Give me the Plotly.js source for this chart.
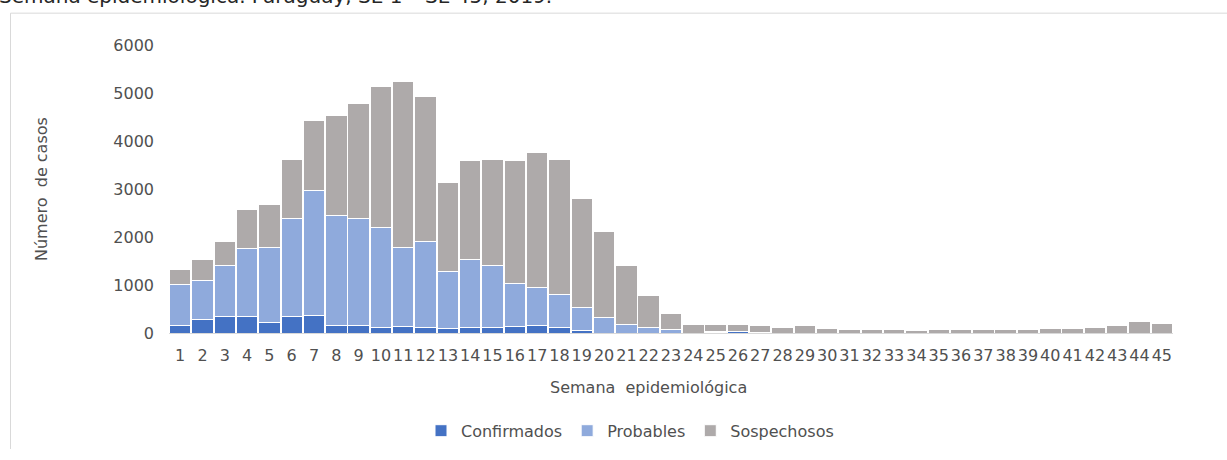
<!DOCTYPE html>
<html>
<head>
<meta charset="utf-8">
<script src="https://cdn.plot.ly/plotly-3.0.1.min.js"></script>
<style>
  html, body { margin: 0; padding: 0; background: #ffffff; }
  #chart { width: 1227px; height: 460px; }
</style>
</head>
<body>
<div id="chart"></div>
<script>
const weeks = Array.from({length: 45}, (_, i) => String(i + 1));

const confirmados = [165, 290, 337, 337, 218, 337, 356, 158, 158, 112, 132, 119, 86, 119, 119, 139, 158, 119, 59, 0,
  0, 0, 0, 0, 20, 25, 0, 0, 0, 0, 0, 0, 0, 0, 0, 0, 0, 0, 0, 0, 0, 0, 0, 0, 0];

const probables = [845, 812, 1069, 1419, 1564, 2039, 2614, 2297, 2218, 2086, 1644, 1782, 1201, 1412, 1287, 891, 799, 693, 476, 317,
  178, 112, 66, 0, 10, 10, 20, 0, 0, 0, 0, 0, 0, 0, 0, 0, 0, 0, 0, 0, 0, 0, 0, 0, 0];

const sospechosos = [317, 423, 495, 812, 891, 1235, 1466, 2080, 2409, 2931, 3458, 3030, 1855, 2060, 2211, 2561, 2805, 2805, 2257, 1802,
  1221, 667, 337, 178, 148, 143, 132, 125, 152, 99, 79, 79, 79, 59, 79, 79, 79, 79, 79, 99, 99, 125, 152, 231, 198];

const seriesNames = ['Confirmados', 'Probables', 'Sospechosos'];
const seriesColors = ['#4472C4', '#8FAADC', '#AEAAAA'];
const seriesData = [confirmados, probables, sospechosos];

const FONT = 'DejaVu Sans, Verdana, sans-serif';
const TXT = '#505050';

const traces = seriesData.map((vals, i) => ({
  type: 'bar',
  name: seriesNames[i],
  x: weeks,
  y: vals,
  marker: { color: seriesColors[i], line: { color: '#ffffff', width: 1 } },
  hoverinfo: 'x+y+name'
}));

// plot area in pixels: left 169, right 1173, top 45, bottom 348
const L = 169, R = 1173, T = 45, B = 348;
const px = x => (x - L) / (R - L);
const py = y => (B - y) / (B - T);

const layout = {
  width: 1227,
  height: 460,
  margin: { l: L, r: 1227 - R, t: T, b: 460 - B, pad: 0 },
  paper_bgcolor: '#ffffff',
  plot_bgcolor: '#ffffff',
  barmode: 'stack',
  bargap: 0.04,
  font: { family: FONT, size: 16, color: TXT },
  showlegend: true,
  legend: {
    orientation: 'h',
    x: px(630), xanchor: 'center',
    y: py(433), yanchor: 'top',
    font: { family: FONT, size: 16, color: TXT },
    itemwidth: 30,
    traceorder: 'normal'
  },
  xaxis: {
    type: 'category',
    tickmode: 'linear',
    dtick: 1,
    tickangle: 0,
    showgrid: false,
    zeroline: false,
    showline: true,
    linecolor: '#D9D9D9',
    linewidth: 1,
    ticks: '',
    ticklabelstandoff: 8,
    tickfont: { family: FONT, size: 16, color: TXT },
    automargin: false
  },
  yaxis: {
    range: [0, 6000],
    tickmode: 'linear',
    tick0: 0,
    dtick: 1000,
    showgrid: false,
    zeroline: false,
    showline: false,
    ticks: '',
    ticklabelstandoff: 14,
    tickfont: { family: FONT, size: 16, color: TXT },
    automargin: false
  },
  annotations: [
    {
      text: 'Semana epidemiológica. Paraguay, SE 1 – SE 45, 2019.',
      xref: 'paper', yref: 'paper',
      x: px(-3), xanchor: 'left',
      y: py(8), yanchor: 'bottom',
      showarrow: false,
      font: { family: 'DejaVu Sans, sans-serif', size: 20, color: '#262626' }
    },
    {
      text: 'Semana  epidemiológica',
      xref: 'paper', yref: 'paper',
      x: px(648), xanchor: 'center',
      y: py(405), yanchor: 'middle',
      showarrow: false,
      font: { family: FONT, size: 16, color: TXT }
    },
    {
      text: 'Número  de casos',
      xref: 'paper', yref: 'paper',
      x: px(41), xanchor: 'center',
      y: 0.5, yanchor: 'middle',
      textangle: -90,
      showarrow: false,
      font: { family: FONT, size: 16, color: TXT }
    }
  ],
  shapes: [
    {
      type: 'path',
      xref: 'paper', yref: 'paper',
      path: 'M ' + px(10.5) + ' ' + py(470) + ' L ' + px(10.5) + ' ' + py(11.5) + ' L ' + px(1240) + ' ' + py(11.5),
      line: { color: '#D9D9D9', width: 1 },
      layer: 'below'
    }
  ]
};

Plotly.newPlot('chart', traces, layout, { displayModeBar: false, staticPlot: true });
</script>
</body>
</html>
